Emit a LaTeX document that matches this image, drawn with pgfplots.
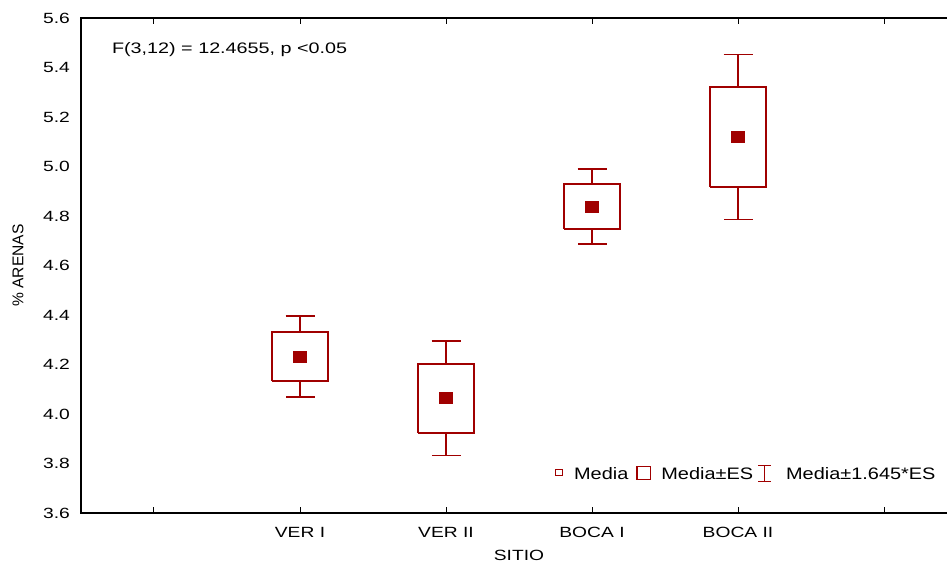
\documentclass[border=0pt]{standalone}
\usepackage{pgfplots}
\pgfplotsset{compat=1.18}
\usepackage{fontspec}
\setmainfont{Liberation Sans}[FakeStretch=1.3]
\newfontfamily\legfont{Liberation Sans}[FakeStretch=1.2]
\newfontfamily\plainfont{Liberation Sans}
\definecolor{dred}{RGB}{160,0,0}
\begin{document}
\begin{tikzpicture}
\begin{axis}[
  scale only axis, width=438pt, height=247.5pt,
  xmin=-0.5, xmax=5.5, ymin=3.6, ymax=5.6,
  xtick={0,1,2,3,4,5},
  xticklabels={,VER I,VER II,BOCA I,BOCA II,},
  ytick={3.6,3.8,4.0,4.2,4.4,4.6,4.8,5.0,5.2,5.4,5.6},
  yticklabel style={anchor=east, xshift=-2pt, /pgf/number format/fixed, /pgf/number format/fixed zerofill, /pgf/number format/precision=1},
  /pgf/number format/assume math mode=true,
  tick label style={font=\fontsize{7.4}{9}\selectfont},
  xticklabel style={anchor=base, yshift=-12.5pt},
  ytick style={draw=none},
  xtick style={black, line width=0.5pt},
  major tick length=3pt,
  axis line style={black, line width=0.6pt},
  xlabel={SITIO},
  xlabel style={at={(axis description cs:0.5,0)}, anchor=base, yshift=-24pt, font=\fontsize{7.4}{9}\selectfont},
  ylabel={\% ARENAS},
  ylabel style={at={(axis description cs:0,0.5)}, anchor=center, yshift=31.5pt, font=\plainfont\fontsize{7.8}{9}\selectfont},
  legend style={at={(axis description cs:0.541,0.079)}, anchor=west, draw=none, fill=none,
    inner sep=0pt, outer sep=0pt, font=\legfont\fontsize{8.3}{10}\selectfont,
    nodes={inner sep=0pt}, column sep=0pt},
  legend columns=3, legend cell align=left,
]
% whiskers: mean +- 1.645*ES
\addplot[forget plot, draw=none, mark=none,
  error bars/.cd, y dir=both, y explicit, error mark=|,
  error bar style={draw=dred, solid, line width=0.8pt},
  error mark options={draw=dred, solid, line width=0.8pt, mark size=7.25pt}]
  coordinates {(1,4.232) +- (0,0.163) (2,4.063) +- (0,0.231) (3,4.838) +- (0,0.151) (4,5.119) +- (0,0.333)};
% boxes: mean +- ES
\addplot[forget plot, draw=dred, fill=white, line width=1pt, line join=miter, mark=none]
  coordinates {(0.805,4.133) (1.195,4.133) (1.195,4.331) (0.805,4.331) (0.805,4.133)};
\addplot[forget plot, draw=dred, fill=white, line width=1pt, line join=miter, mark=none]
  coordinates {(1.805,3.923) (2.195,3.923) (2.195,4.202) (1.805,4.202) (1.805,3.923)};
\addplot[forget plot, draw=dred, fill=white, line width=1pt, line join=miter, mark=none]
  coordinates {(2.805,4.747) (3.195,4.747) (3.195,4.929) (2.805,4.929) (2.805,4.747)};
\addplot[forget plot, draw=dred, fill=white, line width=1pt, line join=miter, mark=none]
  coordinates {(3.805,4.917) (4.195,4.917) (4.195,5.321) (3.805,5.321) (3.805,4.917)};
% means
\addplot[forget plot, only marks, mark=square*, mark size=2.75pt, color=dred, mark options={xscale=1.2}]
  coordinates {(1,4.232) (2,4.063) (3,4.838) (4,5.119)};
\addlegendimage{legend image code/.code={
  \path[draw=none, fill=none] (0,0) -- (9.6pt,0);
  \draw[dred, line width=0.6pt] (0.3pt,0) rectangle (3.6pt,3pt);}}
\addlegendentry{Media}
\addlegendimage{legend image code/.code={
  \path[draw=none, fill=none] (-4pt,0) -- (12.5pt,0);
  \draw[dred, line width=0.6pt] (0.3pt,-2pt) rectangle (7pt,4.5pt);}}
\addlegendentry{Media±ES}
\addlegendimage{legend image code/.code={
  \path[draw=none, fill=none] (-2.5pt,0) -- (14pt,0);
  \draw[dred, line width=0.6pt] (0,5pt) -- (6.5pt,5pt) (3.25pt,5pt) -- (3.25pt,-3pt) (0,-3pt) -- (6.5pt,-3pt);}}
\addlegendentry{Media±1.645*ES}
\node[anchor=base west, font=\fontsize{7.6}{9}\selectfont] at (axis description cs:0.0274,0.929) {F(3,12) = 12.4655, p <0.05};
\coordinate (bl) at (rel axis cs:0,0);
\coordinate (tr) at (rel axis cs:1,1);
\end{axis}
\pgfresetboundingbox
\path[use as bounding box] ([xshift=-40.5pt,yshift=-26pt]bl) rectangle ([xshift=-5pt,yshift=9pt]tr);
\end{tikzpicture}
\end{document}
